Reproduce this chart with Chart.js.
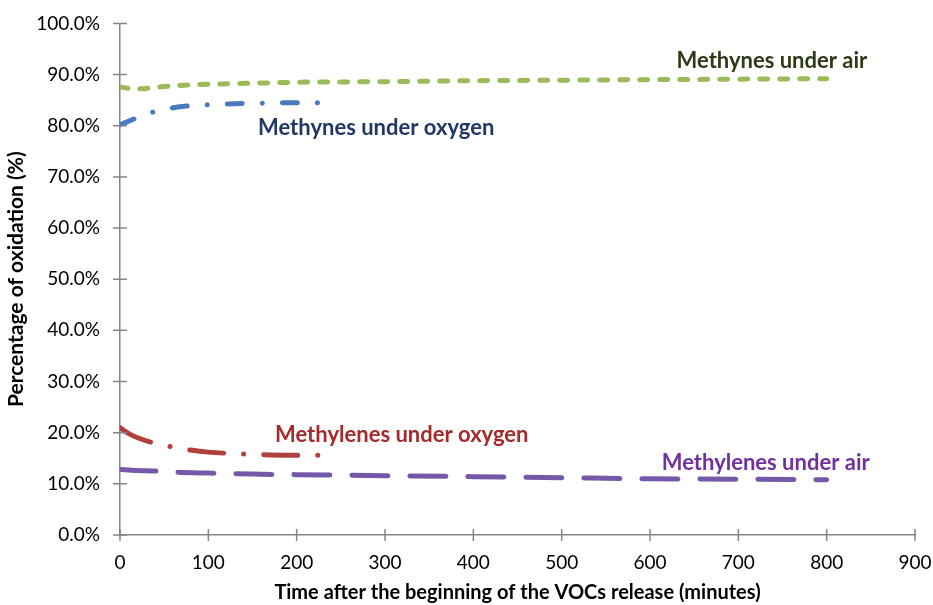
<!DOCTYPE html>
<html>
<head>
<meta charset="utf-8">
<script src="https://cdn.jsdelivr.net/npm/chart.js@4.4.0/dist/chart.umd.min.js"></script>
<style>
  html, body { margin: 0; padding: 0; background: #fff; }
  #wrap { width: 933px; height: 605px; }
</style>
</head>
<body>
<div id="wrap"><canvas id="oxChart"></canvas></div>
<script>
// time (minutes) and percentage of oxidation
const airTime = [0, 10, 20, 40, 60, 100, 150, 200, 300, 400, 500, 600, 700, 800];
const methynesAir = [87.6, 87.3, 87.2, 87.5, 87.8, 88.1, 88.3, 88.5, 88.6, 88.8, 88.9, 89.0, 89.1, 89.2];
const methylenesAir = [12.8, 12.7, 12.6, 12.5, 12.3, 12.1, 11.9, 11.8, 11.6, 11.4, 11.2, 11.0, 10.9, 10.8];

const oxyTime = [0, 10, 20, 40, 60, 80, 100, 130, 160, 190, 225];
const methynesOxy = [80.2, 80.9, 81.6, 82.8, 83.5, 83.9, 84.1, 84.3, 84.4, 84.5, 84.5];
const methylenesOxy = [21.0, 19.8, 19.0, 17.9, 17.2, 16.6, 16.2, 15.9, 15.7, 15.6, 15.6];

const xTicks = [0, 100, 200, 300, 400, 500, 600, 700, 800, 900];

const seriesLabels = [
    { text: 'Methynes under air', x: 738, y: 92.6, color: '#2E3A17' },
    { text: 'Methynes under oxygen', x: 290, y: 79.6, color: '#1F3864' },
    { text: 'Methylenes under oxygen', x: 319, y: 19.6, color: '#A52A2A' },
    { text: 'Methylenes under air', x: 731, y: 14.0, color: '#7030A0' }
];

const FONT = 'Lato, "Open Sans", sans-serif';

function pairs(xs, ys) {
    return xs.map((x, i) => ({ x: x, y: ys[i] }));
}

function makeSet(label, xs, ys, color, dash) {
    return {
        label: label,
        data: pairs(xs, ys),
        borderColor: color,
        borderWidth: 5,
        borderDash: dash,
        borderCapStyle: 'round',
        pointRadius: 0,
        fill: false,
        cubicInterpolationMode: 'monotone'
    };
}

// tick marks that cross the axis line, like the original
const crossTicks = {
    id: 'crossTicks',
    afterDatasetsDraw(chart) {
        const ctx = chart.ctx;
        const xs = chart.scales.x, ys = chart.scales.y;
        ctx.save();
        ctx.strokeStyle = '#868686';
        ctx.lineWidth = 1.5;
        ctx.beginPath();
        xTicks.forEach(v => {
            const px = xs.getPixelForValue(v);
            ctx.moveTo(px, ys.bottom - 6);
            ctx.lineTo(px, ys.bottom + 6);
        });
        for (let v = 0; v <= 100; v += 10) {
            const py = ys.getPixelForValue(v);
            ctx.moveTo(xs.left - 7, py);
            ctx.lineTo(xs.left + 7, py);
        }
        ctx.stroke();
        ctx.restore();
    }
};

const seriesText = {
    id: 'seriesText',
    afterDatasetsDraw(chart) {
        const ctx = chart.ctx;
        const xs = chart.scales.x, ys = chart.scales.y;
        ctx.save();
        ctx.font = 'bold 22px ' + FONT;
        ctx.textAlign = 'center';
        ctx.textBaseline = 'middle';
        seriesLabels.forEach(l => {
            ctx.fillStyle = l.color;
            ctx.fillText(l.text, xs.getPixelForValue(l.x), ys.getPixelForValue(l.y));
        });
        ctx.restore();
    }
};

const ctx = document.getElementById('oxChart').getContext('2d');
new Chart(ctx, {
    type: 'line',
    data: {
        datasets: [
            makeSet('Methynes under air', airTime, methynesAir, '#9BBB59', [8, 12]),
            makeSet('Methynes under oxygen', oxyTime, methynesOxy, '#4A7BC0', [15, 20, 0.1, 20]),
            makeSet('Methylenes under oxygen', oxyTime, methylenesOxy, '#B0403C', [34, 20, 0.1, 20]),
            makeSet('Methylenes under air', airTime, methylenesAir, '#7558A8', [36, 22])
        ]
    },
    options: {
        responsive: true,
        maintainAspectRatio: false,
        animation: false,
        layout: { padding: { top: 22, right: 0, left: 0, bottom: 0 } },
        plugins: {
            legend: { display: false },
            tooltip: { enabled: false }
        },
        scales: {
            x: {
                type: 'linear',
                min: 0,
                max: 900,
                afterBuildTicks(scale) {
                    scale.ticks = xTicks.map(v => ({ value: v }));
                },
                grid: { display: false },
                border: { color: '#868686', width: 1.5 },
                ticks: {
                    color: '#000',
                    font: { family: FONT, size: 19 },
                    padding: 8,
                    maxRotation: 0
                },
                title: {
                    display: true,
                    text: 'Time after the beginning of the VOCs release (minutes)',
                    color: '#000',
                    font: { family: FONT, size: 20, weight: 'bold' },
                    padding: { top: 2, bottom: 0 }
                },
                afterFit(scale) {
                    scale.height = 70;
                    scale.paddingRight = 18;
                }
            },
            y: {
                min: 0,
                max: 100,
                grid: { display: false },
                border: { color: '#868686', width: 1.5 },
                ticks: {
                    stepSize: 10,
                    color: '#000',
                    font: { family: FONT, size: 19 },
                    padding: 12,
                    callback: v => v.toFixed(1) + '%'
                },
                title: {
                    display: true,
                    text: 'Percentage of oxidation (%)',
                    color: '#000',
                    font: { family: FONT, size: 21, weight: 'bold' },
                    padding: { top: 4, bottom: 2 }
                },
                afterFit(scale) { scale.width = 120; }
            }
        }
    },
    plugins: [crossTicks, seriesText]
});
</script>
</body>
</html>
